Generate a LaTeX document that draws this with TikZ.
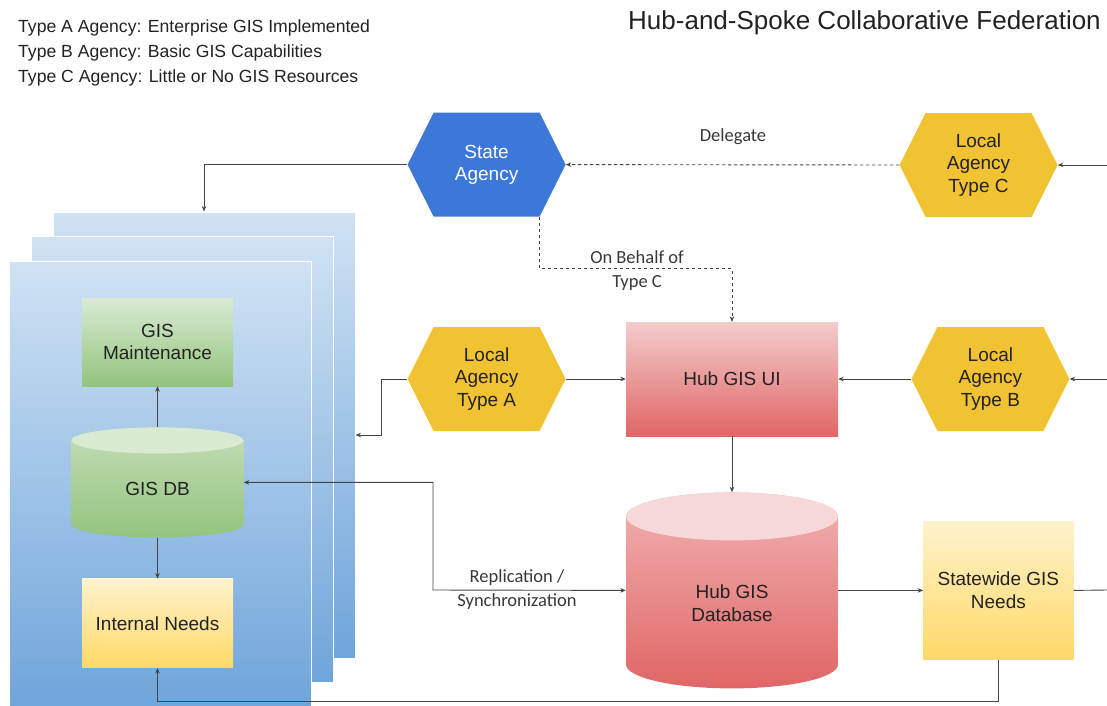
\documentclass[tikz,border=0pt]{standalone}
\usepackage{fontspec}
\setmainfont{Liberation Sans}
\newfontfamily\labelfont{Carlito}
\usetikzlibrary{arrows.meta, positioning}

\definecolor{stateblue}{HTML}{3C78D8}
\definecolor{localgold}{HTML}{F1C232}
\definecolor{paneltop}{HTML}{CFE2F3}
\definecolor{panelbot}{HTML}{6FA5DB}
\definecolor{greentop}{HTML}{D9EAD3}
\definecolor{greenmid}{HTML}{C3DDB7}
\definecolor{greenbot}{HTML}{93C47D}
\definecolor{yellowtop}{HTML}{FFF2CC}
\definecolor{yellowbot}{HTML}{FFD966}
\definecolor{redtop}{HTML}{F4CCCC}
\definecolor{redmid}{HTML}{F2B2B2}
\definecolor{redcap}{HTML}{F6D8D8}
\definecolor{redbot}{HTML}{E06666}
\definecolor{linegray}{HTML}{444444}
\definecolor{textdark}{HTML}{222222}

\tikzstyle{link} = [draw=linegray, line width=0.9pt, ->]
\tikzstyle{dashlink} = [link, dash pattern=on 3.5pt off 2.5pt]
\tikzstyle{panel} = [draw=white, line width=1pt, top color=paneltop,
   bottom color=panelbot, minimum width=302pt, minimum height=446pt,
   inner sep=0pt]
\tikzstyle{box} = [minimum width=151pt, minimum height=88pt, align=center,
   inner sep=0pt]
\tikzstyle{lbl} = [font=\labelfont\fontsize{18.5}{24}\selectfont,
   align=center, text=textdark!90, inner sep=0pt]
\tikzstyle{legend} = [font=\fontsize{17.6}{20}\selectfont, anchor=base west,
   inner sep=0pt, text=textdark]
\tikzset{
  hexnode/.style={minimum width=158pt, minimum height=104pt, align=center,
    path picture={\fill[#1] (path picture bounding box.west)
      -- ([xshift=26pt]path picture bounding box.north west)
      -- ([xshift=-26pt]path picture bounding box.north east)
      -- (path picture bounding box.east)
      -- ([xshift=-26pt]path picture bounding box.south east)
      -- ([xshift=26pt]path picture bounding box.south west) -- cycle;}},
  dbnode/.style n args={5}{align=center,
    path picture={\shade[top color=#3, bottom color=#4]
      ([yshift=-#2]path picture bounding box.north west)
      -- ([yshift=#2]path picture bounding box.south west)
      arc[start angle=180, end angle=360, x radius=#1, y radius=#2]
      -- ([yshift=-#2]path picture bounding box.north east)
      arc[start angle=0, end angle=180, x radius=#1, y radius=#2] -- cycle;
      \fill[#5] ([yshift=-#2]path picture bounding box.north)
      ellipse [x radius=#1, y radius=#2];}}
}

\begin{document}
\begin{tikzpicture}[
  x=1pt, y=-1pt,
  >={Stealth[length=5.5pt,width=4.5pt]},
  font=\fontsize{19}{22.5}\selectfont,
  text=textdark,
  ]
  \useasboundingbox (0,0) rectangle (1107,705);

  % title and legend
  \node[anchor=base east, inner sep=0pt, font=\fontsize{26}{30}\selectfont]
    (title) at (1101,29) {Hub-and-Spoke Collaborative Federation};
  \node[legend] (legA) at (18,32) {Type A Agency: Enterprise GIS Implemented};
  \node[legend] (legB) at (18,57) {Type B Agency: Basic GIS Capabilities};
  \node[legend] (legC) at (18,82) {Type C Agency: Little or No GIS Resources};

  % stacked agency panels
  \foreach \n [count=\i from 0] in {pback,pmid,pfront}
    \node[panel] (\n) at ({204-22*\i},{435+24.5*\i}) {};

  \node[box, top color=greentop, bottom color=greenbot] (gismaint)
    at (157.5,342) {GIS\\Maintenance};
  \node[dbnode={86pt}{13pt}{greenmid}{greenbot}{greentop},
    minimum width=172pt, minimum height=110pt, below=41pt of gismaint,
    label={[yshift=-7pt]center:GIS DB}] (gisdb) {};
  \node[box, minimum height=89pt, top color=yellowtop, bottom color=yellowbot,
    below=41pt of gisdb] (internal) {Internal Needs};

  % hub
  \node[box, minimum width=212pt, minimum height=114pt, top color=redtop,
    bottom color=redbot] (hubui) at (732,379) {Hub GIS UI};
  \node[dbnode={106pt}{24pt}{redmid}{redbot}{redcap},
    minimum width=212pt, minimum height=196pt, below=56pt of hubui,
    label={[yshift=-13pt, align=center]center:Hub GIS\\Database}] (hubdb) {};
  \node[hexnode=localgold, left=60pt of hubui] (typea) {Local\\Agency\\Type A};
  \node[hexnode=localgold, right=73pt of hubui] (typeb) {Local\\Agency\\Type B};
  \node[hexnode=stateblue, text=white, above=110pt of typea] (state) {State\\Agency};
  \node[hexnode=localgold] (typec) at (978.5,165) {Local\\Agency\\Type C};
  \node[box, minimum width=150pt, minimum height=138pt, top color=yellowtop,
    bottom color=yellowbot, right=85pt of hubdb] (statewide) {Statewide GIS\\Needs};

  \coordinate (edgeC) at (1107,165);
  \coordinate (edgeB) at (1107,379);
  \coordinate (edgeS) at (1107,590);
  \coordinate (repl) at (433,590);

  % connectors
  \draw[link] (edgeC) -- (typec.east);
  \draw[dashlink] (typec.west) -- (state.east);
  \node[lbl] (delegate) at (733,137) {Delegate};
  \draw[dashlink] ([xshift=-26pt]state.south east) -- ++(0,52) -| (hubui.north);
  \node[lbl] (behalf) at (637,271) {On Behalf of\\Type C};
  \draw[link] (state.west) -| (pback.north);
  \draw[link] (typea.west) -- ++(-26,0) |- (pback.east);
  \draw[link] (typea.east) -- (hubui.west);
  \draw[link] (typeb.west) -- (hubui.east);
  \draw[link] (edgeB) -- (typeb.east);
  \draw[link] (hubui.south) -- (hubdb.north);
  \draw[link] (hubdb.east) -- (statewide.west);
  \draw[draw=linegray, line width=0.9pt] (statewide.east) -- (edgeS);
  \draw[link, <->] (gisdb.east) -| (repl) -- (hubdb.west);
  \node[lbl] (replic) at (517,590) {Replication /\\Synchronization};
  \draw[link] (statewide.south) -- ++(0,42) -| (internal.south);
  \draw[link] (gisdb.north) -- (gismaint.south);
  \draw[link] (gisdb.south) -- (internal.north);
\end{tikzpicture}
\end{document}
